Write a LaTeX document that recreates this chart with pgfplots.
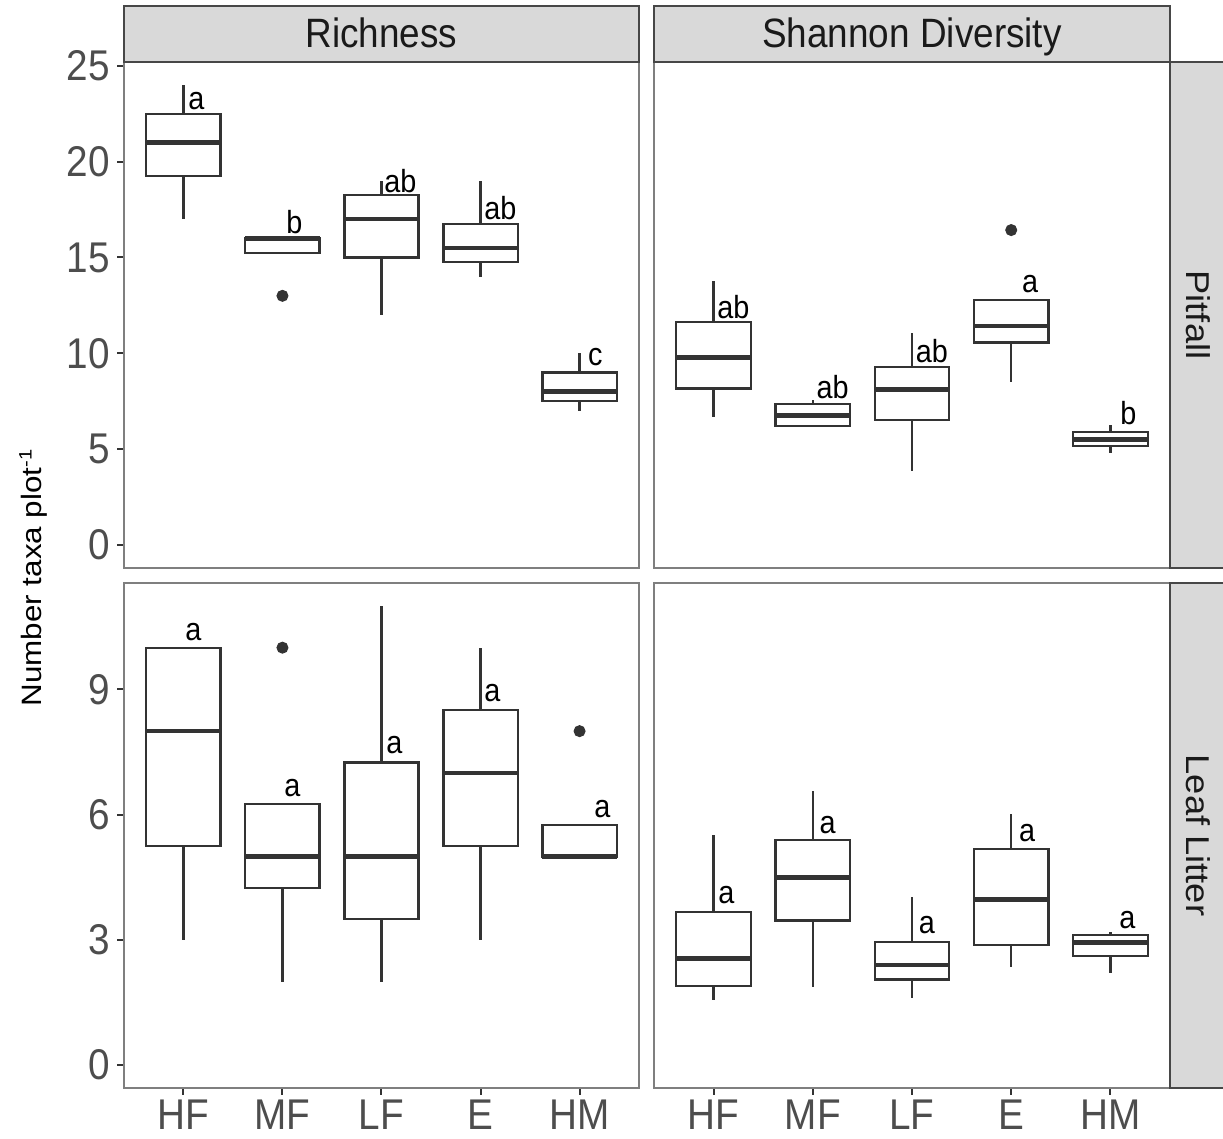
\documentclass[border=0pt]{standalone}
\usepackage{fontspec}
\setmainfont{Liberation Sans}[FakeStretch=0.9]
\newfontfamily\titlefont{Liberation Sans}[FakeStretch=1.12]
\newfontfamily\stripyfont{Liberation Sans}[FakeStretch=1.1]
\usepackage{pgfplots}
\pgfplotsset{compat=1.18}
\usepgfplotslibrary{statistics}

\definecolor{g10}{HTML}{1A1A1A}
\definecolor{g20}{HTML}{333333}
\definecolor{g30}{HTML}{4D4D4D}
\definecolor{g85}{HTML}{D9D9D9}
\definecolor{pborder}{HTML}{7F7F7F}

\newcommand{\ticksz}{\fontsize{21.5}{24}\selectfont}
\newcommand{\labsz}{\fontsize{16}{18}\selectfont}

\pgfplotsset{
  facet/.style={
    scale only axis, xmin=0.4, xmax=5.6,
    axis line style={draw=pborder, line width=0.9pt},
    tick align=outside, major tick length=3.5pt, tick pos=left,
    tick style={draw=g20, line width=1pt},
    ticklabel style={font=\ticksz, text=g30, inner sep=0pt},
    yticklabel style={anchor=east, xshift=-3.5pt},
    xticklabel style={anchor=north, yshift=-2.5pt},
    /pgf/number format/assume math mode=true,
    boxplot/draw direction=y,
    boxplot/box extend=0.75,
    boxplot/whisker extend=0,
    boxplot/every box/.style={line width=1.15pt, fill=white},
    boxplot/every whisker/.style={line width=1.15pt},
    boxplot/every median/.style={line width=2.3pt},
  },
  bx/.style={draw=g20, solid, line width=1.15pt, mark=*, mark size=2.75pt, mark options={draw=g20, fill=g20, line width=0.5pt}},
  lab/.style={only marks, mark=none, point meta=explicit symbolic, nodes near coords,
    every node near coord/.style={anchor=center, inner sep=0pt, font=\labsz, text=black}},
}

\begin{document}
\begin{tikzpicture}
\useasboundingbox (0,0) rectangle (611.5pt,569.5pt);

% Richness / Pitfall
\begin{axis}[facet, at={(62pt,285.5pt)}, anchor=south west, width=257.5pt, height=253pt,
  ymin=-1.2, ymax=25.2, ytick={0,5,...,25}, xtick=\empty]
\addplot[bx, boxplot prepared={draw position=1, lower whisker=17, lower quartile=19.25, median=21, upper quartile=22.5, upper whisker=24}] coordinates {};
\addplot[bx, boxplot prepared={draw position=2, lower whisker=15.25, lower quartile=15.25, median=16, upper quartile=16, upper whisker=16}] table[row sep=\\, y index=0] {13\\};
\addplot[bx, boxplot prepared={draw position=3, lower whisker=12, lower quartile=15, median=17, upper quartile=18.25, upper whisker=19}] coordinates {};
\addplot[bx, boxplot prepared={draw position=4, lower whisker=14, lower quartile=14.75, median=15.5, upper quartile=16.75, upper whisker=19}] coordinates {};
\addplot[bx, boxplot prepared={draw position=5, lower whisker=7, lower quartile=7.5, median=8, upper quartile=9, upper whisker=10}] coordinates {};
\addplot[lab] table[row sep=\\, meta=l] {x y l\\ 1.13 23.16 a\\ 2.12 16.85 b\\ 3.19 18.99 ab\\ 4.20 17.58 ab\\ 5.16 9.81 c\\};
\end{axis}

% Shannon / Pitfall
\begin{axis}[facet, at={(327pt,285.5pt)}, anchor=south west, width=258pt, height=253pt,
  ymin=-1.2, ymax=25.2, ytick=\empty, xtick=\empty]
\addplot[bx, boxplot prepared={draw position=1, lower whisker=6.69, lower quartile=8.17, median=9.79, upper quartile=11.65, upper whisker=13.77}] coordinates {};
\addplot[bx, boxplot prepared={draw position=2, lower whisker=6.15, lower quartile=6.22, median=6.77, upper quartile=7.34, upper whisker=7.56}] coordinates {};
\addplot[bx, boxplot prepared={draw position=3, lower whisker=3.88, lower quartile=6.52, median=8.12, upper quartile=9.30, upper whisker=11.07}] coordinates {};
\addplot[bx, boxplot prepared={draw position=4, lower whisker=8.52, lower quartile=10.57, median=11.42, upper quartile=12.78, upper whisker=12.78}] table[row sep=\\, y index=0] {16.43\\};
\addplot[bx, boxplot prepared={draw position=5, lower whisker=4.78, lower quartile=5.16, median=5.51, upper quartile=5.89, upper whisker=6.28}] coordinates {};
\addplot[lab] table[row sep=\\, meta=l] {x y l\\ 1.20 12.42 ab\\ 2.20 8.24 ab\\ 3.20 10.12 ab\\ 4.19 13.62 a\\ 5.18 6.89 b\\};
\end{axis}

% Richness / Leaf Litter
\begin{axis}[facet, at={(62pt,25.5pt)}, anchor=south west, width=257.5pt, height=252.5pt,
  ymin=-0.55, ymax=11.55, ytick={0,3,6,9}, xtick={1,2,3,4,5}, xticklabels={HF,MF,LF,E,HM}]
\addplot[bx, boxplot prepared={draw position=1, lower whisker=3, lower quartile=5.25, median=8, upper quartile=10, upper whisker=10}] coordinates {};
\addplot[bx, boxplot prepared={draw position=2, lower whisker=2, lower quartile=4.25, median=5, upper quartile=6.25, upper whisker=6.25}] table[row sep=\\, y index=0] {10\\};
\addplot[bx, boxplot prepared={draw position=3, lower whisker=2, lower quartile=3.5, median=5, upper quartile=7.25, upper whisker=11}] coordinates {};
\addplot[bx, boxplot prepared={draw position=4, lower whisker=3, lower quartile=5.25, median=7, upper quartile=8.5, upper whisker=10}] coordinates {};
\addplot[bx, boxplot prepared={draw position=5, lower whisker=5, lower quartile=5, median=5, upper quartile=5.75, upper whisker=5.75}] table[row sep=\\, y index=0] {8\\};
\addplot[lab] table[row sep=\\, meta=l] {x y l\\ 1.10 10.37 a\\ 2.10 6.64 a\\ 3.13 7.67 a\\ 4.12 8.91 a\\ 5.23 6.13 a\\};
\end{axis}

% Shannon / Leaf Litter
\begin{axis}[facet, at={(327pt,25.5pt)}, anchor=south west, width=258pt, height=252.5pt,
  ymin=-0.55, ymax=11.55, ytick=\empty, xtick={1,2,3,4,5}, xticklabels={HF,MF,LF,E,HM}]
\addplot[bx, boxplot prepared={draw position=1, lower whisker=1.56, lower quartile=1.90, median=2.55, upper quartile=3.67, upper whisker=5.50}] coordinates {};
\addplot[bx, boxplot prepared={draw position=2, lower whisker=1.88, lower quartile=3.46, median=4.50, upper quartile=5.39, upper whisker=6.57}] coordinates {};
\addplot[bx, boxplot prepared={draw position=3, lower whisker=1.60, lower quartile=2.05, median=2.40, upper quartile=2.95, upper whisker=4.03}] coordinates {};
\addplot[bx, boxplot prepared={draw position=4, lower whisker=2.36, lower quartile=2.87, median=3.97, upper quartile=5.17, upper whisker=6.01}] coordinates {};
\addplot[bx, boxplot prepared={draw position=5, lower whisker=2.20, lower quartile=2.61, median=2.94, upper quartile=3.12, upper whisker=3.18}] coordinates {};
\addplot[lab] table[row sep=\\, meta=l] {x y l\\ 1.13 4.07 a\\ 2.15 5.75 a\\ 3.15 3.35 a\\ 4.16 5.56 a\\ 5.17 3.47 a\\};
\end{axis}

% facet strips
\begin{scope}[every node/.style={font=\fontsize{20.5}{23}\selectfont, text=g10}]
\draw[fill=g85, draw=g20!90, line width=0.9pt] (62pt,538.5pt) rectangle (319.5pt,566.5pt);
\draw[fill=g85, draw=g20!90, line width=0.9pt] (327pt,538.5pt) rectangle (585pt,566.5pt);
\node[anchor=base] at (190.75pt,545.5pt) {Richness};
\node[anchor=base] at (456pt,545.5pt) {Shannon Diversity};
\draw[fill=g85, draw=g20!90, line width=0.9pt] (585pt,285.5pt) rectangle (615pt,538.5pt);
\draw[fill=g85, draw=g20!90, line width=0.9pt] (585pt,25.5pt) rectangle (615pt,278pt);
\node[rotate=-90, anchor=center, font=\stripyfont\fontsize{16.5}{19}\selectfont] at (599pt,412pt) {Pitfall};
\node[rotate=-90, anchor=center, font=\stripyfont\fontsize{16.5}{19}\selectfont] at (599pt,151.75pt) {Leaf Litter};
\end{scope}

\node[rotate=90, anchor=base, text=black, font=\titlefont\fontsize{14}{16}\selectfont] at (21pt,280.75pt) {Number taxa plot\textsuperscript{\fontsize{9}{10}\selectfont -1}};
\end{tikzpicture}
\end{document}
